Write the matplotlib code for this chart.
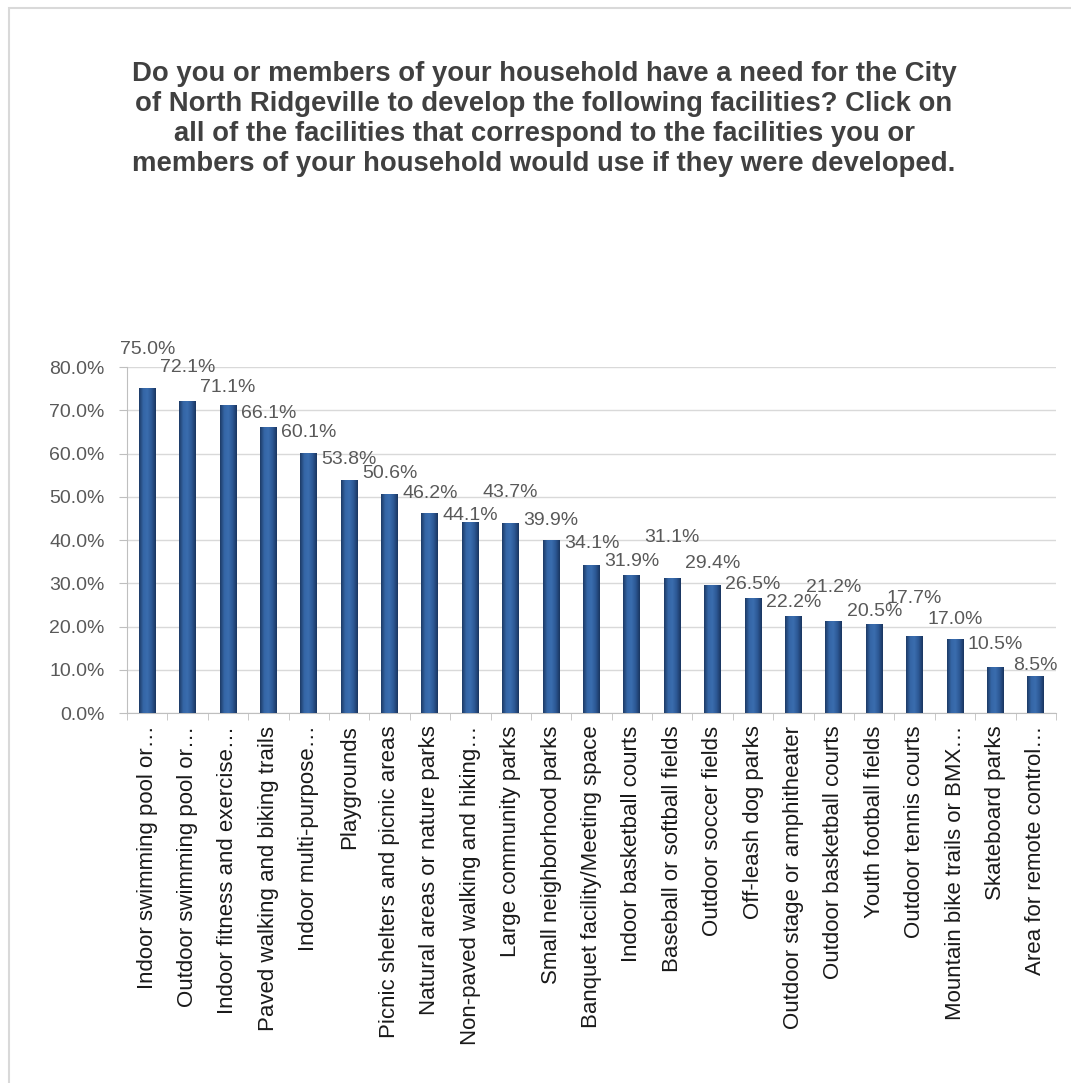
import numpy as np
import matplotlib.pyplot as plt
from matplotlib.patches import Rectangle
from matplotlib.colors import LinearSegmentedColormap

plt.rcParams['font.family'] = ['Liberation Sans', 'DejaVu Sans']

# facilities and share of households that would use them
facilities = [
    "Indoor swimming pool or\u2026",
    "Outdoor swimming pool or\u2026",
    "Indoor fitness and exercise\u2026",
    "Paved walking and biking trails",
    "Indoor multi-purpose\u2026",
    "Playgrounds",
    "Picnic shelters and picnic areas",
    "Natural areas or nature parks",
    "Non-paved walking and hiking\u2026",
    "Large community parks",
    "Small neighborhood parks",
    "Banquet facility/Meeting space",
    "Indoor basketball courts",
    "Baseball or softball fields",
    "Outdoor soccer fields",
    "Off-leash dog parks",
    "Outdoor stage or amphitheater",
    "Outdoor basketball courts",
    "Youth football fields",
    "Outdoor tennis courts",
    "Mountain bike trails or BMX\u2026",
    "Skateboard parks",
    "Area for remote control\u2026",
]
percent = [75.0, 72.1, 71.1, 66.1, 60.1, 53.8, 50.6, 46.2, 44.1, 43.7, 39.9, 34.1,
           31.9, 31.1, 29.4, 26.5, 22.2, 21.2, 20.5, 17.7, 17.0, 10.5, 8.5]
y_ticks = [0, 10, 20, 30, 40, 50, 60, 70, 80]

# how far each data label sits above its bar (pixels), as in the original
label_lift = [39, 34, 18, 14, 21, 21, 21, 20, 7, 32, 20, 22, 14, 41, 22, 14, 15, 34, 13, 38, 20, 23, 11]

title = ("Do you or members of your household have a need for the City\n"
         "of North Ridgeville to develop the following facilities? Click on\n"
         "all of the facilities that correspond to the facilities you or\n"
         "members of your household would use if they were developed.")

fig = plt.figure(figsize=(10.71, 10.83), dpi=100)
ax = fig.add_axes([0.1186, 0.3416, 0.8674, 0.3195])

# light frame around the chart
fig.patches.append(Rectangle((9 / 1071, -0.1), 1.2, (1083 - 8) / 1083 + 0.1,
                             transform=fig.transFigure, fill=False,
                             edgecolor="#d9d9d9", linewidth=1.5))

x = list(range(len(facilities)))
bars = ax.bar(x, percent, width=0.42, color="#2F5E9B", edgecolor="none", zorder=3)

# Excel-style shaded bars: dark edges, lighter band left of centre
shade = LinearSegmentedColormap.from_list(
    "bar", ["#1d3a66", "#3566a6", "#3a6dae", "#2c5894", "#1a3560"])
grad = np.linspace(0, 1, 64).reshape(1, -1)
for b in bars:
    ax.imshow(grad, cmap=shade, aspect="auto", zorder=3,
              extent=[b.get_x(), b.get_x() + b.get_width(), 0, b.get_height()])

for xi, v, lift in zip(x, percent, label_lift):
    ax.annotate(f"{v:.1f}%", (xi, v), xytext=(0, lift), textcoords="offset pixels",
                ha="center", va="center", fontsize=14, color="#595959",
                annotation_clip=False, zorder=4)

ax.set_xlim(-0.5, len(facilities) - 0.5)
ax.set_ylim(0, 80)
ax.set_yticks(y_ticks)
ax.set_yticklabels([f"{t:.1f}%" for t in y_ticks], fontsize=14, color="#595959")
ax.grid(axis="y", color="#d9d9d9", linewidth=1.0, zorder=0)

ax.set_xticks(x)
ax.set_xticklabels(facilities, rotation=90, fontsize=16, color="#1a1a1a")
ax.set_xticks([i - 0.5 for i in range(len(facilities) + 1)], minor=True)
ax.tick_params(axis="x", which="major", length=0, pad=9)
ax.tick_params(axis="x", which="minor", length=5, color="#bfbfbf")
ax.tick_params(axis="y", length=6, color="#bfbfbf", pad=10)

for side in ["top", "right"]:
    ax.spines[side].set_visible(False)
ax.spines["left"].set_color("#bfbfbf")
ax.spines["bottom"].set_color("#bfbfbf")

fig.text(0.508, 0.944, title, ha="center", va="top", fontsize=19.8,
         fontweight="bold", color="#404040", linespacing=1.2)

plt.savefig("out.png", dpi=100)
